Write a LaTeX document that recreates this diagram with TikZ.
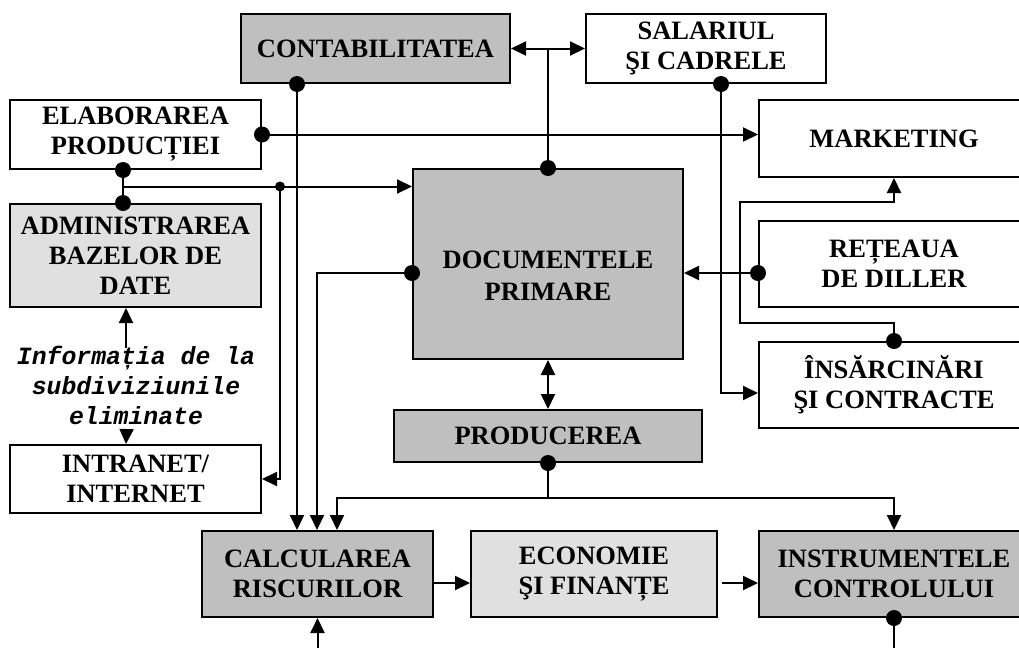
\documentclass[tikz,border=0pt]{standalone}
\usepackage{fontspec}
\setmainfont{Liberation Serif}
\setmonofont{Liberation Mono}
\usepackage{tikz}
\usetikzlibrary{arrows.meta,positioning,calc}
\definecolor{darkbox}{gray}{0.75}
\definecolor{lightbox}{gray}{0.88}

\begin{document}
\begin{tikzpicture}[x=1pt,y=-1pt,->,>={Triangle[length=15pt,width=14pt]},line width=2pt,
                    box/.style={rectangle,draw,line width=2pt,align=center,inner sep=0pt,
                      font=\fontsize{26.5}{30}\selectfont\bfseries},
                    white node/.style={box,fill=white},
                    light node/.style={box,fill=lightbox},
                    dark node/.style={box,fill=darkbox},
                    dot/.style={circle,fill,inner sep=0pt,minimum size=16pt}]
  \useasboundingbox (0,0) rectangle (1019,648);

  % boxes
  \node[dark node,minimum width=269pt,minimum height=69pt] (cont) at (375.5,48.5) {CONTABILITATEA};
  \node[white node,minimum width=240pt,minimum height=69pt] (sal) at (706,48.5) {SALARIUL\\ŞI CADRELE};
  \node[white node,minimum width=251pt,minimum height=69pt] (elab) at (135.5,134.5) {ELABORAREA\\PRODUCȚIEI};
  \node[white node,minimum width=270pt,minimum height=77pt] (mkt) at (894,138.5) {MARKETING};
  \node[light node,minimum width=251pt,minimum height=103pt] (adm) at (135.5,255.5) {ADMINISTRAREA\\BAZELOR DE\\DATE};
  \node[dark node,minimum width=270pt,minimum height=190pt,
        label={[align=center,font=\fontsize{26.5}{32}\selectfont\bfseries,yshift=-12pt]center:DOCUMENTELE\\PRIMARE}] (doc) at (548,264) {};
  \node[white node,minimum width=270pt,minimum height=86pt] (ret) at (894,264) {REȚEAUA\\DE DILLER};
  \node[white node,minimum width=270pt,minimum height=86pt] (ins) at (894,385) {ÎNSĂRCINĂRI\\ŞI CONTRACTE};
  \node[dark node,minimum width=308pt,minimum height=52pt] (prod) at (548,436) {PRODUCEREA};
  \node[white node,minimum width=251pt,minimum height=68pt] (intr) at (135.5,479) {INTRANET/\\INTERNET};
  \node[align=center,inner sep=0pt,font=\fontsize{24.8}{30}\selectfont\ttfamily\bfseries\itshape] (info) at (136,385)
    {Informația de la\\subdiviziunile\\eliminate};
  \node[dark node,minimum width=231pt,minimum height=86pt] (calc) at (317.5,574) {CALCULAREA\\RISCURILOR};
  \node[light node,minimum width=246pt,minimum height=86pt] (eco) at (594,574) {ECONOMIE\\ŞI FINANȚE};
  \node[dark node,minimum width=270pt,minimum height=86pt] (instr) at (894,574) {INSTRUMENTELE\\CONTROLULUI};

  % connectors
  \draw[<->] (cont.east) -- (sal.west);
  \draw[-] (doc.north) -- (doc.north |- cont.east);
  \node[dot] at (doc.north) {};

  \draw ([xshift=57pt]cont.south west) coordinate (c1) -- (c1 |- calc.north);
  \node[dot] at (c1) {};

  \draw ([yshift=-9pt]doc.west) coordinate (d1) -- ++(-95,0) coordinate (d2) -- (d2 |- calc.north);
  \node[dot] at (d1) {};

  \draw ([yshift=-9pt]ret.west) coordinate (r1) -- (r1 -| doc.east);
  \node[dot] at (r1) {};

  \draw (elab.east) -- (elab.east -| mkt.west);
  \node[dot] at (elab.east) {};

  \draw[-] ([xshift=-12.5pt]elab.south) coordinate (e1) -- (e1 |- adm.north);
  \coordinate (e2) at ($(e1)!0.5!(e1 |- adm.north)$);
  \draw (e2) -- (e2 -| doc.west);
  \node[dot] at (e1) {};
  \node[dot] at (e1 |- adm.north) {};
  \path ([xshift=18pt]intr.east) coordinate (i1);
  \draw (i1 |- e2) -- (i1) -- (intr.east);
  \node[dot,minimum size=10pt] at (i1 |- e2) {};

  \path ([yshift=-8pt]ins.west) coordinate (n1);
  \draw ([xshift=15pt]sal.south) coordinate (s1) -- (s1 |- n1) -- (n1);
  \node[dot] at (s1) {};

  \draw (ins.north) -- ++(0,-18) -- ++(-154,0) -- ++(0,-121) -| (mkt.south);
  \node[dot] at (ins.north) {};

  \draw[<->] (doc.south) -- (prod.north);
  \draw (prod.south) -- ++(0,35) coordinate (p1) -| ([xshift=19.5pt]calc.north);
  \draw (p1) -| (instr.north);
  \node[dot] at (prod.south) {};

  \draw ([yshift=-9pt]calc.east) -- ([yshift=-9pt]eco.west);
  \draw ([yshift=-9pt,xshift=4pt]eco.east) -- ([yshift=-9pt]instr.west);

  \coordinate (b1) at (calc.south |- 0,648);
  \draw (b1) -- (calc.south);
  \coordinate (b2) at (instr.south |- 0,648);
  \draw[-] (instr.south) -- (b2);
  \node[dot] at (instr.south) {};

  \path ([xshift=-9.5pt]adm.south) coordinate (a1);
  \draw ([yshift=-3pt]a1 |- info.north) -- (a1);
  \draw ([xshift=-9.5pt,yshift=-5pt]info.south) -- ([xshift=-9.5pt]intr.north);
\end{tikzpicture}
\end{document}
